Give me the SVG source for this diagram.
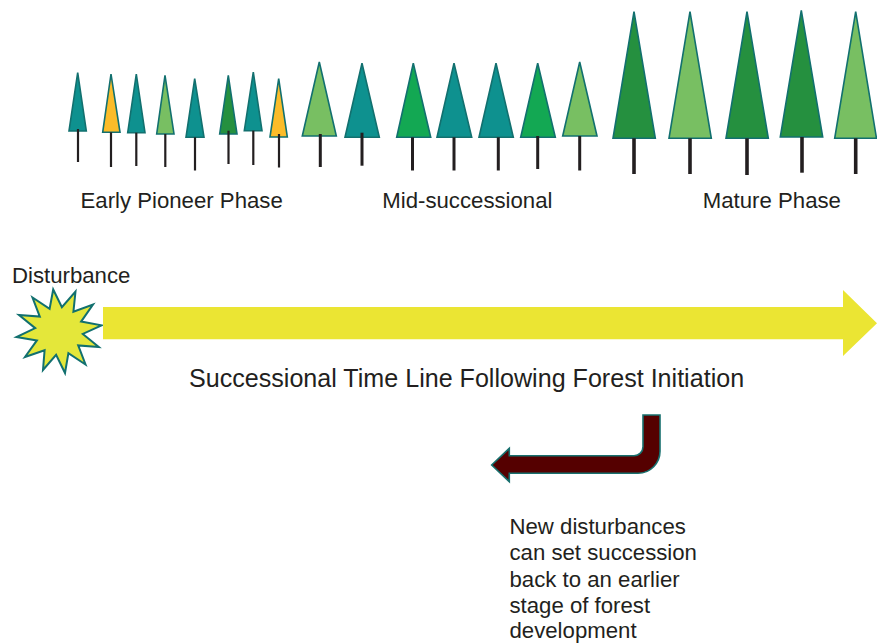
<svg xmlns="http://www.w3.org/2000/svg" width="877" height="643" viewBox="0 0 877 643">
  <style>
    .crown { stroke: #12706f; stroke-width: 1.6; stroke-linejoin: miter; }
    .teal { fill: #0e918f; }
    .gold { fill: #fbbc29; }
    .lime { fill: #78bf62; }
    .green { fill: #13a853; }
    .forest { fill: #25903f; }
    .trunk { stroke: #231f20; stroke-linecap: butt; }
    .t-s { stroke-width: 2.2; }
    .t-m { stroke-width: 3; }
    .t-l { stroke-width: 3.6; }
    text { font-family: "Liberation Sans", Arial, sans-serif; fill: #231f20; }
    .label { font-size: 22.2px; }
    .title { font-size: 25.1px; }
  </style>
  <rect width="877" height="643" fill="#ffffff"/>

  <!-- Early pioneer saplings -->
  <g id="tree-1"><polygon class="crown teal" points="77.7,72.7 86.3,131 69,131"/><line class="trunk t-s" x1="78" y1="129" x2="78" y2="162"/></g>
  <g id="tree-2"><polygon class="crown gold" points="111,74 120,132.3 102.7,132.3"/><line class="trunk t-s" x1="111" y1="132.3" x2="111" y2="167"/></g>
  <g id="tree-3"><polygon class="crown teal" points="136.3,74 145,132.7 127.7,132.7"/><line class="trunk t-s" x1="136.3" y1="132.7" x2="136.3" y2="166"/></g>
  <g id="tree-4"><polygon class="crown lime" points="165,75.3 174,134 156.7,134"/><line class="trunk t-s" x1="165.3" y1="134" x2="165.3" y2="167"/></g>
  <g id="tree-5"><polygon class="crown teal" points="194.7,78.7 204,137.3 186,137.3"/><line class="trunk t-s" x1="195" y1="137.3" x2="195" y2="170.5"/></g>
  <g id="tree-6"><polygon class="crown forest" points="228.3,75.3 237,134 219.7,134"/><line class="trunk t-s" x1="228.5" y1="130.7" x2="228.5" y2="164"/></g>
  <g id="tree-7"><polygon class="crown teal" points="253.3,72 262,130.7 244.3,130.7"/><line class="trunk t-s" x1="253.3" y1="130.7" x2="253.3" y2="165"/></g>
  <g id="tree-8"><polygon class="crown gold" points="278.7,78.7 287.3,137 270,137"/><line class="trunk t-s" x1="279" y1="134" x2="279" y2="167.5"/></g>

  <!-- Mid-successional trees -->
  <g id="tree-9"><polygon class="crown lime" points="319.3,62 336.3,136 302.3,136"/><line class="trunk t-m" x1="320.3" y1="134" x2="320.3" y2="167"/></g>
  <g id="tree-10"><polygon class="crown teal" points="362,63.3 379.3,137.3 345,137.3"/><line class="trunk t-m" x1="362" y1="132.7" x2="362" y2="165.7"/></g>
  <g id="tree-11"><polygon class="crown green" points="413.3,63.3 430.7,137.3 396.7,137.3"/><line class="trunk t-m" x1="412.5" y1="137.3" x2="412.5" y2="170.5"/></g>
  <g id="tree-12"><polygon class="crown teal" points="454,63.3 471.7,137.3 437,137.3"/><line class="trunk t-m" x1="454" y1="137.3" x2="454" y2="170.5"/></g>
  <g id="tree-13"><polygon class="crown teal" points="496,63.3 513.3,137.3 479,137.3"/><line class="trunk t-m" x1="498.3" y1="137.3" x2="498.3" y2="170.5"/></g>
  <g id="tree-14"><polygon class="crown green" points="537.7,63.3 555.3,137.3 520.7,137.3"/><line class="trunk t-m" x1="537.7" y1="136" x2="537.7" y2="169"/></g>
  <g id="tree-15"><polygon class="crown lime" points="579.7,62 597,136 562.7,136"/><line class="trunk t-m" x1="579.7" y1="136" x2="579.7" y2="170.5"/></g>

  <!-- Mature trees -->
  <g id="tree-16"><polygon class="crown forest" points="634,11.7 655.3,138.3 613,138.3"/><line class="trunk t-l" x1="634" y1="138.3" x2="634" y2="174"/></g>
  <g id="tree-17"><polygon class="crown lime" points="690,11.7 711.3,138.3 669,138.3"/><line class="trunk t-l" x1="690" y1="138.3" x2="690" y2="174"/></g>
  <g id="tree-18"><polygon class="crown forest" points="747,11.7 768.3,138.3 726,138.3"/><line class="trunk t-l" x1="747" y1="138.3" x2="747" y2="175"/></g>
  <g id="tree-19"><polygon class="crown forest" points="801.3,10.3 822.7,137 780.3,137"/><line class="trunk t-l" x1="802" y1="137" x2="802" y2="172.7"/></g>
  <g id="tree-20"><polygon class="crown lime" points="855.7,11.7 876.5,138.3 834.7,138.3"/><line class="trunk t-l" x1="855.7" y1="138.3" x2="855.7" y2="174"/></g>

  <!-- Phase labels -->
  <g id="phase-labels">
    <text class="label" x="80.5" y="208.3">Early Pioneer Phase</text>
    <text class="label" x="382.3" y="208.3">Mid-successional</text>
    <text class="label" x="702.8" y="208.3">Mature Phase</text>
  </g>

  <!-- Disturbance burst -->
  <g id="disturbance">
    <text class="label" x="12" y="282.7">Disturbance</text>
    <polygon fill="#e4e73a" stroke="#12706f" stroke-width="2" stroke-linejoin="miter"
      points="75.5,291.5 73.4,311.8 93,304.5 81.1,321.6 101.5,325.3 82.8,333.9 98.8,347 78.2,345.4 85.5,364.5 68.4,353.1 65,373 56.1,354.8 43,370 44.6,350.2 25,357 36.9,340.4 16.5,337 35.2,328.1 19,315 39.8,316.6 32.5,297.5 49.6,308.9 53.2,289.5 61.9,307.2"/>
  </g>

  <!-- Arrows -->
  <g id="connectors">
    <polygon id="timeline-arrow" fill="#ebe533" points="103,307 843,307 843,290 877,323.3 843,356 843,339.3 103,339.3"/>
    <path id="reset-arrow" fill="#550000" stroke="#17706e" stroke-width="1.6" stroke-linejoin="miter"
      d="M643,415 H660 V451 A22,22 0 0 1 638,473.3 H509.3 V481.7 L491.7,465 L509.3,448.3 V455.7 H634 A9,9 0 0 0 643,446.7 Z"/>
  </g>

  <!-- Captions -->
  <g id="timeline-caption">
    <text class="title" x="189" y="387">Successional Time Line Following Forest Initiation</text>
  </g>
  <g id="reset-note">
    <text class="label" x="509.5" y="534">New disturbances</text>
    <text class="label" x="509.5" y="560.3">can set succession</text>
    <text class="label" x="509.5" y="586.6">back to an earlier</text>
    <text class="label" x="509.5" y="612.9">stage of forest</text>
    <text class="label" x="509.5" y="638">development</text>
  </g>
</svg>
